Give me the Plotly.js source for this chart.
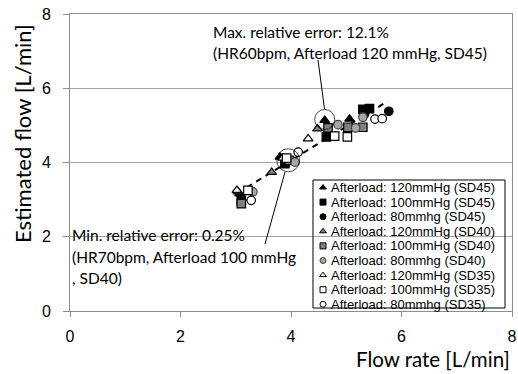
<!DOCTYPE html>
<html><head><meta charset="utf-8">
<script src="https://cdn.plot.ly/plotly-3.0.1.min.js"></script>
<style>html,body{margin:0;padding:0;background:#fff}</style>
</head><body><div id="chart" style="width:518px;height:374px"></div>
<script>
// Series labels
const seriesNames = [
  'Afterload: 120mmHg (SD45)', 'Afterload: 100mmHg (SD45)', 'Afterload: 80mmhg (SD45)',
  'Afterload: 120mmHg (SD40)', 'Afterload: 100mmHg (SD40)', 'Afterload: 80mmhg (SD40)',
  'Afterload: 120mmHg (SD35)', 'Afterload: 100mmHg (SD35)', 'Afterload: 80mmhg (SD35)'
];
// Flow rate (x) and estimated flow (y)
const a120sd45X = [3.07, 3.80, 4.61, 5.06];
const a120sd45Y = [3.16, 4.15, 5.14, 5.17];
const a100sd45X = [3.10, 3.89, 4.64, 5.30, 5.42];
const a100sd45Y = [2.98, 3.97, 4.69, 5.43, 5.45];
const a80sd45X  = [5.33, 5.77];
const a80sd45Y  = [5.30, 5.38];
const a120sd40X = [3.04, 3.65, 4.48];
const a120sd40Y = [3.21, 3.74, 4.91];
const a100sd40X = [3.10, 3.97, 4.67, 5.03, 5.30];
const a100sd40Y = [2.89, 4.06, 4.93, 4.95, 4.95];
const a80sd40X  = [3.31, 4.07, 4.85, 5.17, 5.30];
const a80sd40Y  = [3.21, 4.01, 5.02, 4.93, 5.22];
const a120sd35X = [3.02, 3.85, 4.31];
const a120sd35Y = [3.25, 4.12, 4.64];
const a100sd35X = [3.22, 3.92, 4.79, 5.02];
const a100sd35Y = [3.25, 4.12, 4.71, 4.69];
const a80sd35X  = [3.28, 4.13, 5.52, 5.65];
const a80sd35Y  = [2.98, 4.28, 5.17, 5.18];
// Trend line
const trendX = [3.20, 5.75];
const trendY = [3.33, 5.65];
// Highlighted (max / min relative error) points
const highlightX = [4.61, 3.95];
const highlightY = [5.16, 4.06];
// Tick values
const xTicks = [0, 2, 4, 6, 8];
const yTicks = [0, 2, 4, 6, 8];

const seriesX = [a120sd45X, a100sd45X, a80sd45X, a120sd40X, a100sd40X, a80sd40X, a120sd35X, a100sd35X, a80sd35X];
const seriesY = [a120sd45Y, a100sd45Y, a80sd45Y, a120sd40Y, a100sd40Y, a80sd40Y, a120sd35Y, a100sd35Y, a80sd35Y];
const symbols = ['triangle-up', 'square', 'circle'];
const fills = ['#000000', '#808080', '#ffffff'];
const circFills = ['#000000', '#a6a6a6', '#ffffff'];
const lines = ['#000000', '#000000', '#000000'];

const traces = [];
// trend line first (behind markers)
traces.push({x: trendX, y: trendY, mode: 'lines', showlegend: false, hoverinfo: 'skip',
  line: {color: '#000', width: 2, dash: '6px,5px'}});
for (let i = 0; i < 9; i++) {
  const g = Math.floor(i / 3), s = i % 3;
  traces.push({
    x: seriesX[i], y: seriesY[i], mode: 'markers', name: seriesNames[i], showlegend: false,
    marker: {symbol: symbols[s], size: 8.5, color: s === 2 ? circFills[g] : fills[g],
      line: {color: g === 1 && s === 2 ? '#404040' : lines[g], width: 1.2}}
  });
}
traces.push({x: highlightX, y: highlightY, mode: 'markers', showlegend: false, hoverinfo: 'skip',
  marker: {symbol: 'circle-open', size: [20, 23], color: '#000', line: {width: 1, color: '#000'}}});

// manual legend (compact spacing) on an overlay axis in 0..1 units
const px2px = (px) => (px - 70) / 442;
const py2py = (py) => (311 - py) / 297;
const legendStep = 14.6;
const legendTop = 187.5;
const annotations = [];
for (let i = 0; i < 9; i++) {
  const g = Math.floor(i / 3), s = i % 3;
  const yy = py2py(legendTop + legendStep * i);
  traces.push({x: [px2px(323)], y: [yy], xaxis: 'x2', yaxis: 'y2', mode: 'markers', showlegend: false,
    hoverinfo: 'skip',
    marker: {symbol: symbols[s], size: 6, color: s === 2 ? circFills[g] : fills[g],
      line: {color: g === 1 && s === 2 ? '#404040' : lines[g], width: 1}}});
  annotations.push({xref: 'paper', yref: 'paper', x: px2px(329), y: yy, xanchor: 'left', yanchor: 'middle',
    text: seriesNames[i], showarrow: false,
    font: {family: 'Liberation Sans, Arial, sans-serif', size: 13, color: '#000'}});
}

const calib = 'Lato, Carlito, Calibri, sans-serif';
const noteFont = {family: calib, size: 15.5, color: '#000'};
const maxLines = ['Max. relative error: 12.1%', '(HR60bpm, Afterload 120 mmHg, SD45)'];
const minLines = ['Min. relative error: 0.25%', '(HR70bpm, Afterload 100 mmHg', ', SD40)'];
[32, 53].forEach((py, k) => annotations.push({xref: 'paper', yref: 'paper', x: px2px(211), y: py2py(py),
  xanchor: 'left', yanchor: 'middle', text: maxLines[k], showarrow: false, font: noteFont}));
[235, 257, 278].forEach((py, k) => annotations.push({xref: 'paper', yref: 'paper', x: px2px(70), y: py2py(py),
  xanchor: 'left', yanchor: 'middle', text: minLines[k], showarrow: false, font: noteFont}));
// axis titles
annotations.push({xref: 'paper', yref: 'paper', x: 1.0, y: py2py(359), xanchor: 'right', yanchor: 'middle',
  text: 'Flow rate [L/min]', showarrow: false, font: {family: calib, size: 20.5, color: '#000'}});
annotations.push({xref: 'paper', yref: 'paper', x: px2px(22), y: py2py(134), xanchor: 'center', yanchor: 'middle',
  textangle: -90, text: 'Estimated flow [L/min]', showarrow: false, font: {family: calib, size: 22, color: '#000'}});

const shapes = [
  {type: 'rect', xref: 'paper', yref: 'paper', x0: px2px(313), x1: px2px(505), y0: py2py(308), y1: py2py(180),
   line: {color: '#000', width: 1}, fillcolor: 'rgba(255,255,255,0)'},
  {type: 'line', xref: 'paper', yref: 'paper', x0: px2px(318), y0: py2py(60), x1: px2px(324.5), y1: py2py(109),
   line: {color: '#000', width: 1}},
  {type: 'line', xref: 'paper', yref: 'paper', x0: px2px(285), y0: py2py(172), x1: px2px(265), y1: py2py(244),
   line: {color: '#000', width: 1}}
];

const tickFont = {family: 'Liberation Sans, Arial, sans-serif', size: 16, color: '#000'};
const layout = {
  width: 518, height: 374,
  margin: {l: 70, r: 6, t: 14, b: 63, pad: 0},
  paper_bgcolor: '#fff', plot_bgcolor: '#fff',
  showlegend: false,
  xaxis: {range: [0, 8], tickvals: xTicks, ticktext: xTicks.map(String), showgrid: false, zeroline: false,
    showline: true, linecolor: '#8c8c8c', linewidth: 1, mirror: true, ticks: 'outside', ticklen: 5,
    tickcolor: '#8c8c8c', tickfont: tickFont, ticklabelstandoff: 6, fixedrange: true},
  yaxis: {range: [0, 8], tickvals: yTicks, ticktext: yTicks.map(String), showgrid: true, gridcolor: '#a6a6a6',
    zeroline: false, showline: true, linecolor: '#8c8c8c', linewidth: 1, mirror: true, ticks: 'outside',
    ticklen: 6, tickcolor: '#8c8c8c', tickfont: tickFont, ticklabelstandoff: 9, fixedrange: true},
  xaxis2: {overlaying: 'x', range: [0, 1], visible: false, anchor: 'y2', fixedrange: true},
  yaxis2: {overlaying: 'y', range: [0, 1], visible: false, anchor: 'x2', fixedrange: true},
  annotations: annotations,
  shapes: shapes
};
Plotly.newPlot('chart', traces, layout, {displayModeBar: false, staticPlot: true});
</script></body></html>
